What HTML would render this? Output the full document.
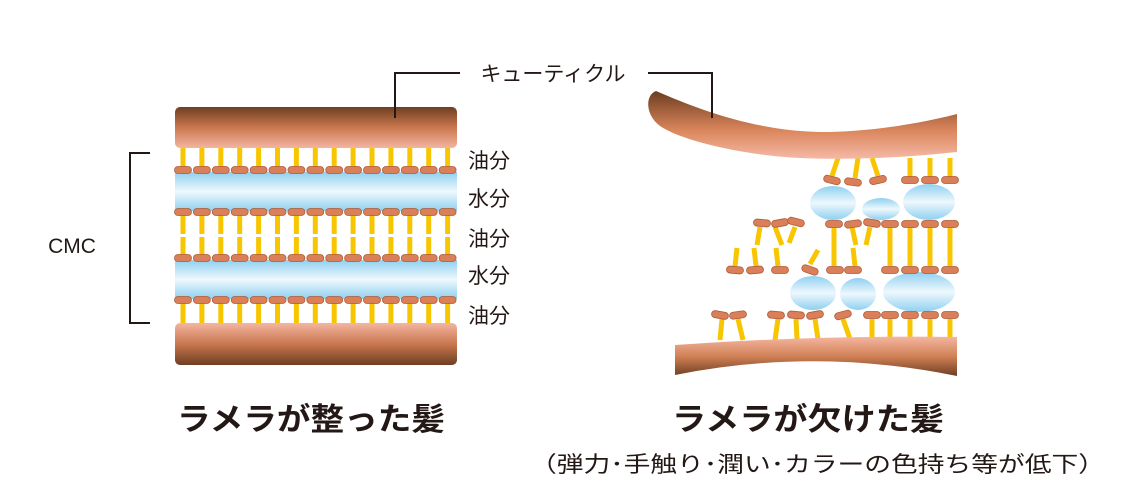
<!DOCTYPE html>
<html><head><meta charset="utf-8"><style>
html,body{margin:0;padding:0;background:#fff;}
svg{display:block;}
text{font-family:"Liberation Sans","Noto Sans CJK JP",sans-serif;fill:#231815;}
</style></head><body>
<svg id="s" width="1128" height="493" viewBox="0 0 1128 493" xmlns="http://www.w3.org/2000/svg">
<defs>
<linearGradient id="cut" x1="0" y1="0" x2="0" y2="1">
<stop offset="0" stop-color="#6e3f22"/><stop offset="0.5" stop-color="#c9774e"/><stop offset="1" stop-color="#f4b5a0"/></linearGradient>
<linearGradient id="cutb" x1="0" y1="0" x2="0" y2="1">
<stop offset="0" stop-color="#f4b5a0"/><stop offset="0.5" stop-color="#c9774e"/><stop offset="1" stop-color="#6e3f22"/></linearGradient>
<linearGradient id="cutr" gradientUnits="userSpaceOnUse" x1="0" y1="92" x2="0" y2="160">
<stop offset="0" stop-color="#6e3f22"/><stop offset="0.55" stop-color="#d9845a"/><stop offset="1" stop-color="#f6bba8"/></linearGradient>
<linearGradient id="cutrb" gradientUnits="userSpaceOnUse" x1="0" y1="337" x2="0" y2="376">
<stop offset="0" stop-color="#f4b5a0"/><stop offset="0.5" stop-color="#d08054"/><stop offset="1" stop-color="#6e3f22"/></linearGradient>
<linearGradient id="wat" x1="0" y1="0" x2="0" y2="1">
<stop offset="0" stop-color="#8fd0f0"/><stop offset="0.5" stop-color="#eef8fd"/><stop offset="1" stop-color="#8fd0f0"/></linearGradient>
</defs>
<!-- left -->
<rect x="175" y="107" width="282" height="41" rx="5" fill="url(#cut)"/>
<rect x="175" y="323" width="282" height="42" rx="5" fill="url(#cutb)"/>
<rect x="175" y="172" width="282" height="39" fill="url(#wat)"/>
<rect x="175" y="260" width="282" height="39" fill="url(#wat)"/>
<g id="L"></g>
<g id="R"></g>
<!-- right cuticles -->
<path d="M656,91 C700,110 760,133 830,132 C880,131 930,121 957,114 L957,152 C900,158 850,160 800,158 C740,155 680,140 660,126 C645,115 645,95 656,91 Z" fill="url(#cutr)"/>
<path d="M675,345 Q815,335 957,337 L957,376 Q815,347 675,375 Z" fill="url(#cutrb)"/>
<!-- labels -->
<polyline points="395,118 395,73 460,73" fill="none" stroke="#231815" stroke-width="2"/>
<polyline points="648,73 712,73 712,118" fill="none" stroke="#231815" stroke-width="2"/>
<text x="553" y="81" font-size="21" text-anchor="middle">キューティクル</text>
<polyline points="150,153 130,153 130,323 150,323" fill="none" stroke="#231815" stroke-width="2"/>
<text x="72" y="253" font-size="21" text-anchor="middle">CMC</text>
<text x="468" y="168" font-size="21">油分</text>
<text x="468" y="206" font-size="21">水分</text>
<text x="468" y="246" font-size="21">油分</text>
<text x="468" y="283" font-size="21">水分</text>
<text x="468" y="323" font-size="21">油分</text>
<text x="177" y="430" font-size="31" font-weight="bold" textLength="268" lengthAdjust="spacingAndGlyphs">ラメラが整った髪</text>
<text x="672" y="430" font-size="31" font-weight="bold" textLength="272" lengthAdjust="spacingAndGlyphs">ラメラが欠けた髪</text>
<text x="530" y="472" font-size="22" textLength="575" lengthAdjust="spacingAndGlyphs">（弾力･手触り･潤い･カラーの色持ち等が低下）</text>
</svg>
<script>
var NS="http://www.w3.org/2000/svg";
function el(g,n,a){var e=document.createElementNS(NS,n);for(var k in a)e.setAttribute(k,a[k]);g.appendChild(e);return e;}
function tail(g,x1,y1,x2,y2){el(g,"line",{x1:x1,y1:y1,x2:x2,y2:y2,stroke:"#f7c600","stroke-width":5});}
function head(g,x,y,a){el(g,"rect",{x:x-8.5,y:y-3.5,width:17,height:7,rx:3.5,fill:"#d9805a",stroke:"#b05a36","stroke-width":0.8,transform:"rotate("+(a||0)+" "+x+" "+y+")"});}
var L=document.getElementById("L");
for(var i=0;i<15;i++){var x=183+i*18.9;
tail(L,x,148,x,169);tail(L,x,214,x,234);tail(L,x,237,x,257);tail(L,x,302,x,323);}
for(var i=0;i<15;i++){var x=183+i*18.9;head(L,x,170);head(L,x,212);head(L,x,258);head(L,x,300);}
var R=document.getElementById("R");
[[833,203,23,17],[881,209,19,11],[929,202,26,18],[813,293,23,17],[858,294,18,16],[919,292,36,20]].forEach(function(e){el(R,"ellipse",{cx:e[0],cy:e[1],rx:e[2],ry:e[3],fill:"url(#wat)"});});
[[838,158,832,176],[858,158,855,178],[872,158,878,176],[910,158,910,177],[930,158,930,177],[950,158,950,177],
[760,227,757,245],[775,227,782,245],[795,227,789,243],
[834,227,834,266],[852,227,856,245],[870,227,866,245],[890,227,890,266],[910,227,910,266],[930,227,930,266],[950,227,950,266],
[737,248,735,266],[754,248,756,266],[776,248,778,266],[818,250,810,264],[853,248,855,266],
[720,340,722,319],[743,340,738,319],[775,340,778,319],[797,339,796,319],[818,339,815,319],[850,339,843,319],[872,339,872,319],[890,339,890,319],[910,339,910,319],[930,339,930,319],[950,339,950,319]
].forEach(function(t){tail(R,t[0],t[1],t[2],t[3]);});
[[832,180,15],[853,182,8],[878,180,-12],[910,180,0],[930,180,0],[950,180,0],
[762,223,5],[780,223,-10],[796,222,15],[834,224,0],[853,224,-8],[872,223,10],[890,224,0],[910,224,0],[930,224,0],[950,224,0],
[735,270,5],[755,270,-5],[780,270,0],[810,270,20],[835,270,0],[853,270,0],[890,270,0],[910,270,0],[930,270,0],[950,270,0],
[720,315,10],[738,315,-8],[776,315,5],[796,315,5],[815,315,-10],[843,315,-15],[872,315,0],[890,315,0],[910,315,0],[930,315,0],[950,315,0]
].forEach(function(h){head(R,h[0],h[1],h[2]);});
</script>
</body></html>
